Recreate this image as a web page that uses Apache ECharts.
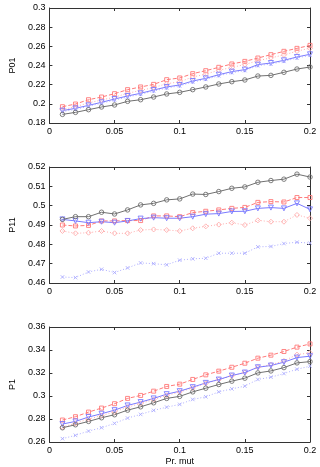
<!DOCTYPE html>
<html><head><meta charset="utf-8">
<script src="https://cdn.jsdelivr.net/npm/echarts@6/dist/echarts.min.js"></script>
<style>html,body{margin:0;padding:0;background:#fff}#c{width:320px;height:467px}</style>
</head><body><div id="c"></div>
<script>
var prMut = [0.01,0.02,0.03,0.04,0.05,0.06,0.07,0.08,0.09,0.10,0.11,0.12,0.13,0.14,0.15,0.16,0.17,0.18,0.19,0.20];
var xTicks = [0, 0.05, 0.1, 0.15, 0.2];
var panelNames = ['P01','P11','P1'];
var yMins = [0.18, 0.46, 0.26];
var yMaxs = [0.30, 0.52, 0.36];
var yIntervals = [0.02, 0.01, 0.02];

// P01
var p01Square  = [0.197,0.1998,0.2043,0.2071,0.2106,0.2148,0.2176,0.2203,0.2252,0.227,0.2315,0.2346,0.2381,0.2416,0.2443,0.2478,0.2513,0.2548,0.2579,0.261];
var p01Diamond = [0.194,0.197,0.201,0.204,0.207,0.211,0.214,0.217,0.221,0.223,0.228,0.231,0.235,0.238,0.241,0.245,0.248,0.251,0.255,0.258];
var p01Tri     = [0.1929,0.1953,0.1984,0.2016,0.205,0.2082,0.211,0.2144,0.2176,0.2197,0.2238,0.2266,0.2304,0.2336,0.2357,0.2409,0.2426,0.2454,0.2489,0.2517];
var p01X       = [0.1918,0.1943,0.1975,0.2006,0.204,0.2071,0.21,0.2133,0.2165,0.2188,0.2228,0.2255,0.2293,0.2325,0.2347,0.2398,0.2416,0.2443,0.2479,0.2506];
var p01Circle  = [0.189,0.1911,0.1939,0.1967,0.1988,0.2026,0.2043,0.2071,0.2103,0.212,0.2148,0.2176,0.2207,0.2231,0.2249,0.229,0.2297,0.2329,0.2363,0.2384];
// P11
var p11Square  = [0.49,0.4895,0.4898,0.4921,0.4921,0.4923,0.4923,0.4947,0.4947,0.4943,0.4964,0.4971,0.4978,0.4986,0.4991,0.5017,0.5021,0.5019,0.5042,0.5042];
var p11Diamond = [0.4869,0.4857,0.486,0.4869,0.4857,0.4857,0.4874,0.4877,0.4874,0.4869,0.4883,0.4893,0.4902,0.4912,0.49,0.4924,0.4917,0.4917,0.4952,0.4935];
var p11Tri     = [0.4929,0.4921,0.4912,0.4917,0.4912,0.4921,0.4933,0.4938,0.4935,0.4935,0.4943,0.4956,0.4959,0.497,0.4971,0.4986,0.499,0.4986,0.5012,0.4981];
var p11X       = [0.4631,0.4628,0.4657,0.4671,0.4654,0.4678,0.4704,0.47,0.4694,0.4718,0.4725,0.4728,0.4754,0.4754,0.4754,0.4787,0.4789,0.4804,0.4811,0.4806];
var p11Circle  = [0.4929,0.4943,0.4943,0.4966,0.4957,0.4978,0.5004,0.5012,0.503,0.5035,0.506,0.5058,0.5073,0.509,0.5097,0.5121,0.513,0.5137,0.5163,0.5148];
// P1
var p1Square  = [0.2791,0.282,0.286,0.2895,0.2933,0.2979,0.3005,0.3042,0.3083,0.3103,0.3144,0.3184,0.3216,0.325,0.3285,0.3329,0.3355,0.3387,0.3425,0.3453];
var p1Diamond = [0.273,0.2762,0.28,0.283,0.2862,0.2903,0.2935,0.2968,0.3005,0.3035,0.307,0.311,0.3142,0.3175,0.3205,0.325,0.3272,0.3305,0.336,0.3375];
var p1Tri     = [0.2756,0.2779,0.2817,0.2846,0.2877,0.2918,0.2947,0.2979,0.3016,0.3042,0.3077,0.3114,0.3143,0.3178,0.3204,0.325,0.3265,0.3294,0.3334,0.3346];
var p1X       = [0.2629,0.2658,0.2695,0.2724,0.2762,0.2808,0.284,0.2875,0.2903,0.2927,0.297,0.2993,0.3036,0.3062,0.3086,0.3144,0.3164,0.3195,0.3233,0.3259];
var p1Circle  = [0.2724,0.275,0.2779,0.2811,0.2837,0.2877,0.2906,0.2941,0.2979,0.2997,0.3036,0.3068,0.31,0.3129,0.3155,0.3201,0.3218,0.3247,0.3288,0.3299];

var panels = [
  [p01Square, p01Diamond, p01Tri, p01X, p01Circle],
  [p11Square, p11Diamond, p11Tri, p11X, p11Circle],
  [p1Square, p1Diamond, p1Tri, p1X, p1Circle]
];

var styles = [
  {color:'#ff7a7a', type:'dashed', symbol:'rect', rot:0, size:4},
  {color:'#ffadad', type:[1,2], symbol:'diamond', rot:0, size:5},
  {color:'#7a7aff', type:'solid', symbol:'triangle', rot:180, size:5},
  {color:'#adadff', type:[1,2], symbol:'path://M0,0L10,10M10,0L0,10', rot:0, size:3.5},
  {color:'#707070', type:'solid', symbol:'circle', rot:0, size:4.5}
];

var tops = [8, 167, 327];
var heights = [115, 116, 116];
var fontFam = '"Liberation Sans", Arial, sans-serif';
var axisColor = '#333';

var grids = [], xAxes = [], yAxes = [], series = [];
for (var p = 0; p < 3; p++) {
  grids.push({left:34, width:276, top:tops[p], height:heights[p], show:false});
  var tickCfg = {show:true, inside:true, length:3, lineStyle:{color:axisColor, width:1}};
  xAxes.push({type:'value', gridIndex:p, position:'bottom', min:0, max:0.2, interval:0.05,
    axisLine:{show:true, onZero:false, lineStyle:{color:axisColor, width:1}},
    axisTick:tickCfg, splitLine:{show:false},
    axisLabel:{show:true, fontSize:9, fontFamily:fontFam, color:'#000', margin:4,
      formatter:function(v){ return xTicks.indexOf(Math.round(v*100)/100) >= 0 ? String(Math.round(v*100)/100) : ''; }},
    name: p === 2 ? 'Pr. mut' : '', nameLocation:'middle', nameGap:15,
    nameTextStyle:{fontSize:9, fontFamily:fontFam, color:'#000'}});
  xAxes.push({type:'value', gridIndex:p, position:'top', min:0, max:0.2, interval:0.05,
    axisLine:{show:true, onZero:false, lineStyle:{color:axisColor, width:1}},
    axisTick:tickCfg, axisLabel:{show:false}, splitLine:{show:false}});
  yAxes.push({type:'value', gridIndex:p, position:'left', min:yMins[p], max:yMaxs[p], interval:yIntervals[p],
    axisLine:{show:true, onZero:false, lineStyle:{color:axisColor, width:1}},
    axisTick:tickCfg, splitLine:{show:false},
    axisLabel:{show:true, fontSize:9, fontFamily:fontFam, color:'#000', margin:4,
      formatter:function(v){ return String(Math.round(v*1000)/1000); }},
    name: panelNames[p], nameLocation:'middle', nameGap:20, nameRotate:90,
    nameTextStyle:{fontSize:9, fontFamily:fontFam, color:'#000'}});
  yAxes.push({type:'value', gridIndex:p, position:'right', min:yMins[p], max:yMaxs[p], interval:yIntervals[p],
    axisLine:{show:true, onZero:false, lineStyle:{color:axisColor, width:1}},
    axisTick:tickCfg, axisLabel:{show:false}, splitLine:{show:false}});
  var data = panels[p];
  for (var s = 0; s < 5; s++) {
    var st = styles[s];
    series.push({
      type:'line', xAxisIndex:p*2, yAxisIndex:p*2,
      data: prMut.map(function(x, i){ return [x, data[s][i]]; }),
      symbol: st.symbol, symbolSize: st.size, symbolRotate: st.rot, showAllSymbol:true,
      lineStyle:{color:st.color, width:1, type:st.type},
      itemStyle:{color:'rgba(255,255,255,0)', borderColor:st.color, borderWidth:0.9},
      animation:false, silent:true
    });
  }
}

var chart = echarts.init(document.getElementById('c'), null, {renderer:'canvas'});
chart.setOption({animation:false, grid:grids, xAxis:xAxes, yAxis:yAxes, series:series});
</script>
</body></html>
